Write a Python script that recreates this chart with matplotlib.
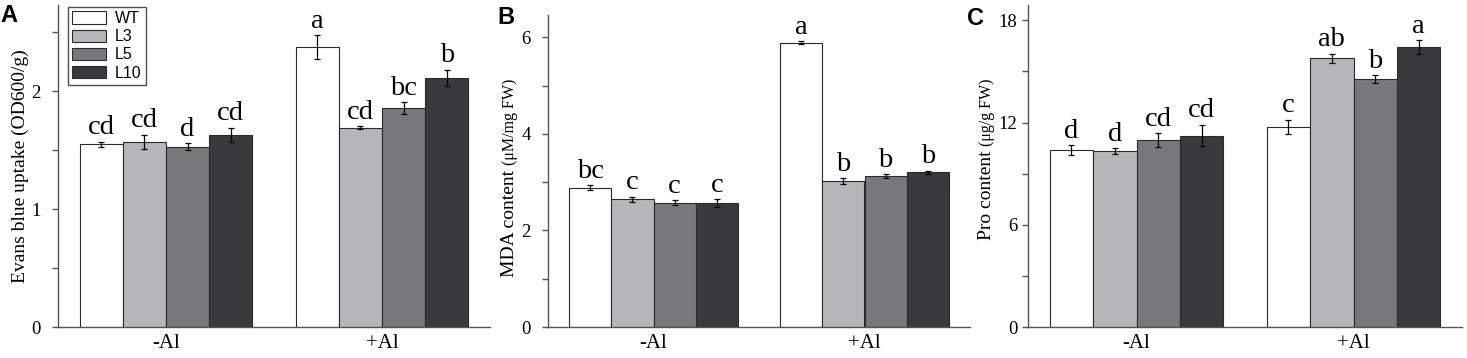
import numpy as np
import matplotlib
matplotlib.use('Agg')
from matplotlib import pyplot as plt
from matplotlib.patches import Patch

groups = ['-Al', '+Al']
lines = ['WT', 'L3', 'L5', 'L10']
colors = ['#ffffff', '#b4b6b7', '#76797b', '#383b3e']

# values per line: [-Al, +Al]
evans = {'WT': [1.55, 2.375], 'L3': [1.57, 1.69], 'L5': [1.53, 1.855], 'L10': [1.63, 2.11]}
evans_err = {'WT': [0.02, 0.10], 'L3': [0.06, 0.015], 'L5': [0.03, 0.05], 'L10': [0.06, 0.07]}
evans_sig = {'WT': ['cd', 'a'], 'L3': ['cd', 'cd'], 'L5': ['d', 'bc'], 'L10': ['cd', 'b']}

mda = {'WT': [2.88, 5.89], 'L3': [2.64, 3.02], 'L5': [2.57, 3.13], 'L10': [2.57, 3.20]}
mda_err = {'WT': [0.05, 0.03], 'L3': [0.06, 0.06], 'L5': [0.05, 0.04], 'L10': [0.08, 0.04]}
mda_sig = {'WT': ['bc', 'a'], 'L3': ['c', 'b'], 'L5': ['c', 'b'], 'L10': ['c', 'b']}

pro = {'WT': [10.39, 11.76], 'L3': [10.33, 15.76], 'L5': [10.96, 14.55], 'L10': [11.24, 16.43]}
pro_err = {'WT': [0.28, 0.41], 'L3': [0.18, 0.29], 'L5': [0.42, 0.24], 'L10': [0.63, 0.40]}
pro_sig = {'WT': ['d', 'c'], 'L3': ['d', 'ab'], 'L5': ['cd', 'b'], 'L10': ['cd', 'a']}

serif = ['Liberation Serif', 'DejaVu Serif']
sans = ['Liberation Sans', 'DejaVu Sans']
plt.rcParams['font.family'] = serif

W, H = 1467, 358
fig = plt.figure(figsize=(W / 100, H / 100), dpi=100)

axes_px = [(58, 490, 5), (548, 970, 15), (1028, 1462, 5)]
base_px = 327
ylims = [2.73, 6.46, 18.9]
major = [[0, 1, 2], [0, 2, 4, 6], [0, 6, 12, 18]]
minor = [[0.5, 1.5, 2.5], [1, 3, 5], [3, 9, 15]]
pads = [8, 8, 3]
spine_col = '#555555'
bw = 0.2

datasets = [(evans, evans_err, evans_sig), (mda, mda_err, mda_sig), (pro, pro_err, pro_sig)]
axs = []
for k, (l, r, t) in enumerate(axes_px):
    ax = fig.add_axes([l / W, 1 - base_px / H, (r - l) / W, (base_px - t) / H])
    axs.append(ax)
    vals, errs, sigs = datasets[k]
    x = np.arange(len(groups))
    for i, ln in enumerate(lines):
        xs = x + (i - 1.5) * bw
        ax.bar(xs, vals[ln], bw, color=colors[i], edgecolor='#2a2a2a', linewidth=0.8,
               label=ln, zorder=2)
        ax.errorbar(xs, vals[ln], yerr=errs[ln], fmt='none', ecolor='black',
                    elinewidth=0.9, capsize=2.2, capthick=0.9, zorder=3)
        for j in range(len(groups)):
            ax.annotate(sigs[ln][j], (xs[j], vals[ln][j] + errs[ln][j]),
                        xytext=(0, 1), textcoords='offset points',
                        ha='center', va='bottom', fontsize=20.5)
    ax.set_xlim(-0.5, 1.5)
    ax.set_ylim(0, ylims[k])
    ax.set_xticks(x)
    ax.set_xticklabels(groups, fontsize=15)
    ax.set_yticks(major[k])
    ax.set_yticks(minor[k], minor=True)
    ax.tick_params(axis='x', length=0, pad=5)
    ax.tick_params(axis='y', which='both', direction='out', length=4.5, width=1,
                   color=spine_col, labelsize=13.5, pad=pads[k])
    for s in ['top', 'right']:
        ax.spines[s].set_visible(False)
    for s in ['left', 'bottom']:
        ax.spines[s].set_color(spine_col)
        ax.spines[s].set_linewidth(1)

# y labels
fig.text(20 / W, 1 - 166 / H, 'Evans blue uptake (OD600/g)', rotation=90,
         ha='center', va='center', fontsize=14)

def split_label(xpx, ybot_px, main, small):
    t1 = fig.text(xpx / W, 1 - ybot_px / H, main, rotation=90, ha='right',
                  va='bottom', fontsize=14)
    axs[0].annotate(small, xy=(1, 1), xycoords=t1, rotation=90, ha='right',
                    va='bottom', fontsize=11.5, annotation_clip=False)

split_label(518, 277, 'MDA content ', '(μM/mg FW)')
split_label(995, 240, 'Pro content ', '(μg/g FW)')

# panel letters
for lab, (px, py) in zip(['A', 'B', 'C'], [(0, 4), (497, 6), (967, 7)]):
    fig.text(px / W, 1 - py / H, lab, ha='left', va='top', fontsize=17,
             fontweight='bold', family=sans)

handles = [Patch(facecolor=c, edgecolor='#2a2a2a', linewidth=0.8) for c in colors]
leg = axs[0].legend(handles, lines, loc='upper left', bbox_to_anchor=(68 / W, 1 - 7 / H),
                    bbox_transform=fig.transFigure, borderaxespad=0, frameon=True,
                    fancybox=False, edgecolor='#222222', prop={'family': sans, 'size': 11.5},
                    handlelength=2.1, handleheight=0.8, labelspacing=0.2,
                    handletextpad=0.6, borderpad=0.25)
leg.get_frame().set_linewidth(1)

fig.savefig('out.png', dpi=100)
